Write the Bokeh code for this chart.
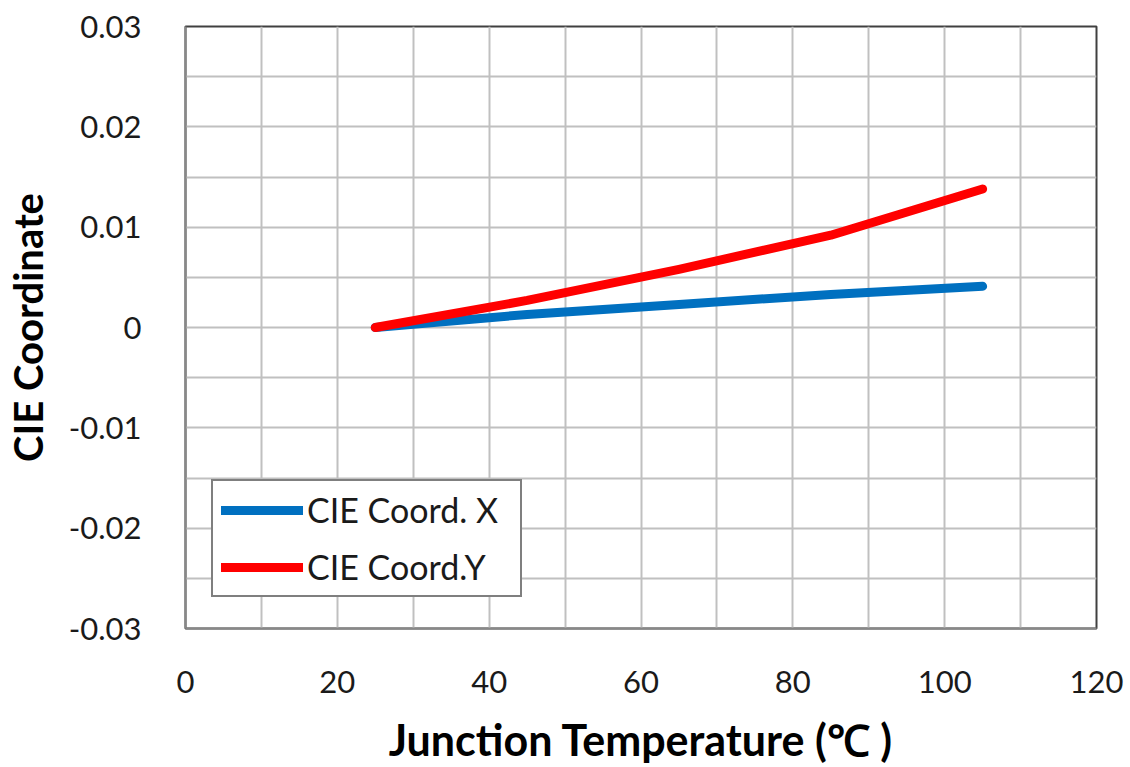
from bokeh.plotting import figure
from bokeh.models import (FixedTicker, CustomJSTickFormatter, Legend, LegendItem, Range1d)
from bokeh.embed import file_html
from bokeh.resources import INLINE

# Junction temperature (°C) and chromaticity shift of the CIE coordinates
temperature = [25, 45, 65, 85, 105]
cie_x_shift = [0.0, 0.0013, 0.0023, 0.0033, 0.0041]
cie_y_shift = [0.0, 0.0027, 0.0058, 0.0092, 0.0138]

x_ticks = [0, 20, 40, 60, 80, 100, 120]
x_minor = [10, 30, 50, 70, 90, 110]
y_ticks = [-0.03, -0.02, -0.01, 0.0, 0.01, 0.02, 0.03]
y_minor = [-0.025, -0.015, -0.005, 0.005, 0.015, 0.025]

FONT = "Lato"

p = figure(width=1130, height=767, output_backend="svg", toolbar_location=None,
           x_range=Range1d(0, 120), y_range=Range1d(-0.03, 0.03),
           min_border_left=184, min_border_right=34, min_border_top=26, min_border_bottom=138)

p.outline_line_color = "#404040"
p.outline_line_width = 2
p.background_fill_color = "white"
p.border_fill_color = "white"

p.xaxis.ticker = FixedTicker(ticks=x_ticks, minor_ticks=x_minor)
p.yaxis.ticker = FixedTicker(ticks=y_ticks, minor_ticks=y_minor)
p.yaxis.formatter = CustomJSTickFormatter(code="""
    const v = Math.round(tick * 100) / 100;
    return v === 0 ? "0" : v.toFixed(2);
""")

for g in (p.xgrid, p.ygrid):
    g.grid_line_color = "#C0C0C0"
    g.grid_line_width = 2
    g.minor_grid_line_color = "#C0C0C0"
    g.minor_grid_line_width = 2

for ax in (p.xaxis, p.yaxis):
    ax.axis_line_color = "#888888"
    ax.axis_line_width = 2
    ax.major_tick_line_color = None
    ax.minor_tick_line_color = None
    ax.major_label_text_font = FONT
    ax.major_label_text_font_size = "31px"
    ax.major_label_text_color = "#1a1a1a"
    ax.axis_label_text_font = FONT
    ax.axis_label_text_font_style = "bold"
    ax.axis_label_text_color = "black"

p.xaxis.axis_label = "Junction Temperature (℃ )"
p.yaxis.axis_label = "CIE Coordinate"
p.xaxis.axis_label_text_font_size = "43px"
p.yaxis.axis_label_text_font_size = "40px"
p.xaxis.major_label_standoff = 36
p.yaxis.major_label_standoff = 38
p.xaxis.axis_label_standoff = 18
p.yaxis.axis_label_standoff = 14

rx = p.line(temperature, cie_x_shift, line_color="#0070C0", line_width=9, line_cap="round", line_join="round")
ry = p.line(temperature, cie_y_shift, line_color="#FF0000", line_width=9, line_cap="round", line_join="round")

legend = Legend(items=[LegendItem(label="CIE Coord. X", renderers=[rx]),
                       LegendItem(label="CIE Coord.Y", renderers=[ry])],
                location=(26, 31), orientation="vertical",
                glyph_width=82, glyph_height=38, spacing=16, padding=8, margin=0,
                label_standoff=4, label_width=205, label_text_font=FONT, label_text_font_size="34px",
                label_text_color="#1a1a1a",
                border_line_color="black", border_line_width=2,
                background_fill_color="white", background_fill_alpha=1.0)
p.add_layout(legend, "center")

open("out.html", "w").write(file_html(p, INLINE))
